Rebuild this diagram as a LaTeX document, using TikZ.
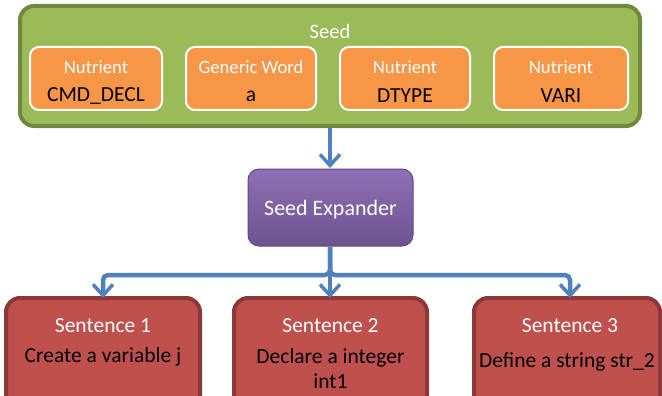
\documentclass[tikz,border=0pt]{standalone}
\usepackage{fontspec}
\setmainfont{Carlito}
\usetikzlibrary{arrows.meta}
\definecolor{seedfill}{HTML}{9BBB59}
\definecolor{seeddraw}{HTML}{71893F}
\definecolor{nutfill}{HTML}{F79646}
\definecolor{exptop}{HTML}{8E6FB4}
\definecolor{expbot}{HTML}{6E5390}
\definecolor{expdraw}{HTML}{5E4A7C}
\definecolor{sentfill}{HTML}{C0504D}
\definecolor{sentdraw}{HTML}{8C3836}
\definecolor{arrowblue}{HTML}{4F81BD}
\tikzset{
  x=1pt, y=-1pt,
  txt/.style={font=\fontsize{21.5}{25}\selectfont},
  smalltxt/.style={font=\fontsize{18.7}{22}\selectfont},
  seedbox/.style={draw=seeddraw, fill=seedfill, line width=4pt, rounded corners=14pt},
  nutbox/.style={draw=white, fill=nutfill, line width=2pt, rounded corners=9pt},
  expbox/.style={draw=expdraw, top color=exptop, bottom color=expbot, line width=1pt, rounded corners=11pt},
  sentbox/.style={draw=sentdraw, fill=sentfill, line width=4pt, rounded corners=14pt},
  conn/.style={draw=arrowblue, line width=4.5pt, rounded corners=5pt},
  arr/.style={conn, -{Straight Barb[length=11pt,width=20pt,line width=3.5pt]}},
  wlabel/.style={txt, text=white, inner sep=0pt},
  wsmall/.style={smalltxt, text=white, inner sep=0pt},
  blabel/.style={txt, text=black, inner sep=0pt, align=center},
}
\begin{document}
\begin{tikzpicture}
\useasboundingbox (0,0) rectangle (662,396);
\clip (0,0) rectangle (662,396);
% Seed container
\draw[seedbox] (20,6) rectangle (640,126);
\node[wsmall, font=\fontsize{20.5}{24}\selectfont] (seedlbl) at (330,31) {Seed};
% nutrients
\draw[nutbox] (30,47) rectangle (162,110);
\node[wsmall] (n1a) at (96,67) {Nutrient};
\node[blabel] (n1b) at (96,96) {CMD\_DECL};
\draw[nutbox] (186,47) rectangle (316,110);
\node[wsmall] (n2a) at (251,67) {Generic Word};
\node[blabel] (n2b) at (251,96) {a};
\draw[nutbox] (340,47) rectangle (470,110);
\node[wsmall] (n3a) at (405,67) {Nutrient};
\node[blabel] (n3b) at (405,96) {DTYPE};
\draw[nutbox] (494,47) rectangle (628,110);
\node[wsmall] (n4a) at (561,67) {Nutrient};
\node[blabel] (n4b) at (561,96) {VARI};
\coordinate (seedbot) at (330,128);
% expander
\draw[expbox] (248,169) rectangle (413,246);
\node[wlabel, font=\fontsize{22}{25}\selectfont] (exp) at (330.5,210) {Seed Expander};
\coordinate (exptop) at (330,168);
\coordinate (expbot) at (330,247);
\coordinate (junc) at (330,275);
% sentences
\draw[sentbox] (6,298) rectangle (200,410);
\node[wlabel] (s1a) at (103,326) {Sentence 1};
\node[blabel] (s1b) at (103,357) {Create a variable j};
\draw[sentbox] (234,298) rectangle (427,410);
\node[wlabel] (s2a) at (330.5,326) {Sentence 2};
\node[blabel] (s2b) at (330.5,369) {Declare a integer\\int1};
\draw[sentbox] (474,298) rectangle (660,410);
\node[wlabel] (s3a) at (570,326) {Sentence 3};
\node[blabel] (s3b) at (567,362) {Define a string str\_2};
\coordinate (s1top) at (103,298);
\coordinate (s2top) at (330,298);
\coordinate (s3top) at (570,298);
% connectors
\draw[arr] (seedbot) -- (exptop);
\draw[arr] (expbot) -- (junc) -| (s1top);
\draw[arr] (expbot) -- (junc) -| (s3top);
\draw[arr] (expbot) -- (s2top);
\end{tikzpicture}
\end{document}
